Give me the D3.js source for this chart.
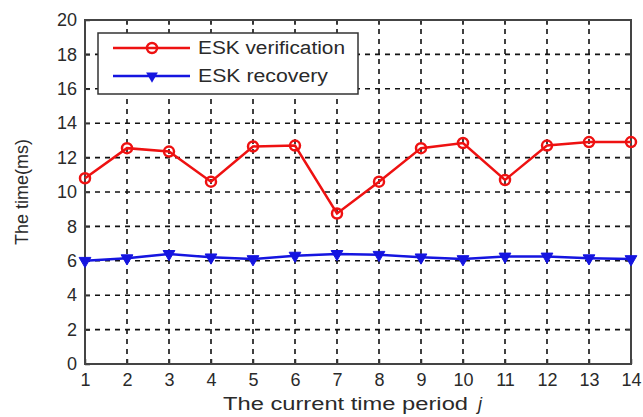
<!DOCTYPE html>
<html>
<head>
<meta charset="utf-8">
<script src="https://cdn.jsdelivr.net/npm/d3@7"></script>
<style>
  body { margin: 0; background: #fff; }
  svg { font-family: "Liberation Sans", Arial, sans-serif; }
</style>
</head>
<body>
<svg width="643" height="417"></svg>
<script>
// time periods j
const periods = [1, 2, 3, 4, 5, 6, 7, 8, 9, 10, 11, 12, 13, 14];
// ESK verification (ms)
const verification = [10.8, 12.55, 12.35, 10.6, 12.65, 12.7, 8.75, 10.6, 12.55, 12.85, 10.7, 12.7, 12.9, 12.9];
// ESK recovery (ms)
const recovery = [6.0, 6.15, 6.4, 6.2, 6.1, 6.3, 6.4, 6.35, 6.2, 6.1, 6.25, 6.25, 6.15, 6.1];
const yTicks = [0, 2, 4, 6, 8, 10, 12, 14, 16, 18, 20];

const svg = d3.select("svg");
const margin = { left: 85, right: 12, top: 20, bottom: 53 };
const W = 643, H = 417;
const ink = "#2a2a2a";

const x = d3.scaleLinear().domain([1, 14]).range([margin.left, W - margin.right]);
const y = d3.scaleLinear().domain([0, 20]).range([H - margin.bottom, margin.top]);

// grid
const grid = svg.append("g")
    .attr("stroke", "#111")
    .attr("stroke-width", 1.6)
    .attr("stroke-dasharray", "5,5");
grid.selectAll("line.gx")
    .data(periods.slice(1, -1))
    .enter().append("line")
    .attr("x1", d => x(d)).attr("x2", d => x(d))
    .attr("y1", y(0)).attr("y2", y(20));
grid.selectAll("line.gy")
    .data(yTicks.slice(1, -1))
    .enter().append("line")
    .attr("x1", x(1)).attr("x2", x(14))
    .attr("y1", d => y(d)).attr("y2", d => y(d));

// axes with inward ticks
const xAxis = svg.append("g")
    .attr("transform", `translate(0,${y(0)})`)
    .call(d3.axisBottom(x).tickValues(periods).tickFormat(d3.format("d")).tickSizeInner(-5).tickSizeOuter(0).tickPadding(9));
const yAxis = svg.append("g")
    .attr("transform", `translate(${x(1)},0)`)
    .call(d3.axisLeft(y).tickValues(yTicks).tickSizeInner(-5).tickSizeOuter(0).tickPadding(8));
[xAxis, yAxis].forEach(a => {
    a.select(".domain").remove();
    a.selectAll("line").attr("stroke", "#333").attr("stroke-width", 1.5);
    a.selectAll("text").attr("font-size", 18).attr("fill", ink)
        .attr("font-family", "Liberation Sans, Arial, sans-serif");
});

// top ticks and right ticks
svg.append("g").selectAll("line")
    .data(periods)
    .enter().append("line")
    .attr("x1", d => x(d)).attr("x2", d => x(d))
    .attr("y1", y(20)).attr("y2", y(20) + 5)
    .attr("stroke", "#333").attr("stroke-width", 1.5);
svg.append("g").selectAll("line")
    .data(yTicks)
    .enter().append("line")
    .attr("x1", x(14)).attr("x2", x(14) - 5)
    .attr("y1", d => y(d)).attr("y2", d => y(d))
    .attr("stroke", "#333").attr("stroke-width", 1.5);

// frame
svg.append("rect")
    .attr("x", x(1)).attr("y", y(20))
    .attr("width", x(14) - x(1)).attr("height", y(0) - y(20))
    .attr("fill", "none").attr("stroke", "#444").attr("stroke-width", 2);

const line = d3.line().x((d, i) => x(periods[i])).y(d => y(d));

// ESK verification
svg.append("path").datum(verification)
    .attr("d", line).attr("fill", "none")
    .attr("stroke", "#ee1111").attr("stroke-width", 2.5);
svg.append("g").selectAll("circle")
    .data(verification)
    .enter().append("circle")
    .attr("cx", (d, i) => x(periods[i])).attr("cy", d => y(d))
    .attr("r", 5).attr("fill", "none")
    .attr("stroke", "#ee1111").attr("stroke-width", 2.5);

// ESK recovery
const tri = d3.symbol().type(d3.symbolTriangle).size(60);
svg.append("path").datum(recovery)
    .attr("d", line).attr("fill", "none")
    .attr("stroke", "#1515e0").attr("stroke-width", 2.5);
svg.append("g").selectAll("path")
    .data(recovery)
    .enter().append("path")
    .attr("d", tri)
    .attr("transform", (d, i) => `translate(${x(periods[i])},${y(d)}) rotate(180)`)
    .attr("fill", "#1515e0").attr("stroke", "#1515e0").attr("stroke-width", 1);

// legend
const lg = svg.append("g");
lg.append("rect")
    .attr("x", 98).attr("y", 33).attr("width", 260).attr("height", 61)
    .attr("fill", "#fff").attr("stroke", "#333").attr("stroke-width", 1.5);
const items = [
    { name: "ESK verification", color: "#ee1111", mark: "circle", len: 147 },
    { name: "ESK recovery", color: "#1515e0", mark: "tri", len: 130 }
];
items.forEach((it, i) => {
    const cy = 48 + i * 28;
    lg.append("line")
        .attr("x1", 113).attr("x2", 190).attr("y1", cy).attr("y2", cy)
        .attr("stroke", it.color).attr("stroke-width", 2.5);
    if (it.mark === "circle") {
        lg.append("circle").attr("cx", 152).attr("cy", cy).attr("r", 5)
            .attr("fill", "none").attr("stroke", it.color).attr("stroke-width", 2.5);
    } else {
        lg.append("path").attr("d", tri)
            .attr("transform", `translate(152,${cy}) rotate(180)`)
            .attr("fill", it.color);
    }
    lg.append("text")
        .attr("x", 198).attr("y", cy + 6)
        .attr("font-size", 18).attr("fill", ink)
        .attr("textLength", it.len).attr("lengthAdjust", "spacingAndGlyphs")
        .text(it.name);
});

// axis titles
svg.append("text")
    .attr("transform", `translate(28,${(y(0) + y(20)) / 2}) rotate(-90)`)
    .attr("text-anchor", "middle")
    .attr("font-size", 18).attr("fill", ink)
    .attr("textLength", 106).attr("lengthAdjust", "spacingAndGlyphs")
    .text("The time(ms)");
svg.append("text")
    .attr("x", 223).attr("y", 410)
    .attr("font-size", 18).attr("fill", ink)
    .attr("textLength", 245).attr("lengthAdjust", "spacingAndGlyphs")
    .text("The current time period");
svg.append("text")
    .attr("x", 478).attr("y", 410)
    .attr("font-size", 18).attr("font-style", "italic").attr("fill", ink)
    .text("j");
</script>
</body>
</html>
